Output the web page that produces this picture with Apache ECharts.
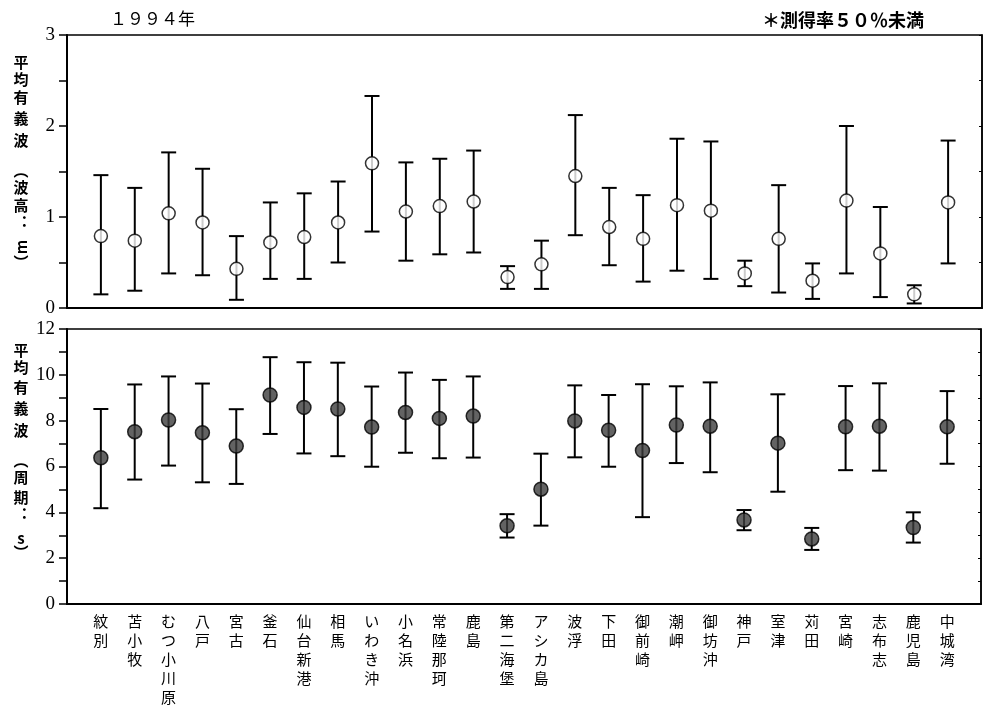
<!DOCTYPE html>
<html><head><meta charset="utf-8">
<script src="https://cdn.jsdelivr.net/npm/echarts@6/dist/echarts.min.js"></script>
<style>html,body{margin:0;padding:0;background:#fff}#c{width:984px;height:721px}</style>
</head><body><div id="c"></div>
<script>
const stations = ["紋別","苫小牧","むつ小川原","八戸","宮古","釜石","仙台新港","相馬","いわき沖","小名浜","常陸那珂","鹿島","第二海堡","アシカ島","波浮","下田","御前崎","潮岬","御坊沖","神戸","室津","苅田","宮崎","志布志","鹿児島","中城湾"];
const heightMean = [0.79,0.74,1.04,0.94,0.43,0.72,0.78,0.94,1.59,1.06,1.12,1.17,0.34,0.48,1.45,0.89,0.76,1.13,1.07,0.38,0.76,0.30,1.18,0.60,0.15,1.16];
const heightLow  = [0.15,0.19,0.38,0.36,0.09,0.32,0.32,0.50,0.84,0.52,0.59,0.61,0.21,0.21,0.80,0.47,0.29,0.41,0.32,0.24,0.17,0.10,0.38,0.12,0.05,0.49];
const heightHigh = [1.46,1.32,1.71,1.53,0.79,1.16,1.26,1.39,2.33,1.60,1.64,1.73,0.46,0.74,2.12,1.32,1.24,1.86,1.83,0.52,1.35,0.49,2.00,1.11,0.25,1.84];
const periodMean = [6.38,7.52,8.03,7.47,6.89,9.12,8.58,8.51,7.72,8.36,8.10,8.20,3.41,5.01,7.99,7.58,6.70,7.81,7.76,3.67,7.02,2.84,7.73,7.76,3.34,7.73];
const periodLow  = [4.18,5.43,6.04,5.31,5.24,7.42,6.57,6.45,5.99,6.60,6.36,6.39,2.90,3.42,6.40,5.99,3.79,6.15,5.75,3.22,4.90,2.36,5.84,5.82,2.68,6.12];
const periodHigh = [8.51,9.58,9.93,9.62,8.50,10.77,10.55,10.53,9.49,10.10,9.78,9.93,3.92,6.56,9.54,9.12,9.59,9.50,9.67,4.10,9.15,3.32,9.51,9.63,4.00,9.29];
const titleText = "１９９４年";
const noteText = "＊測得率５０％未満";
const heightAxisName = ["平","均","有","義","波","︵","波","高","︓","m","︶"];
const periodAxisName = ["平","均","有","義","波","︵","周","期","︓","s","︶"];

const chart = echarts.init(document.getElementById('c'));
const labelFont = {fontFamily:'Liberation Serif', fontSize:19, color:'#000'};

function errRender(params, api){
  const x = api.value(0), lo = api.value(1), hi = api.value(2);
  const a = api.coord([x, lo]), b = api.coord([x, hi]);
  const w = 7.5, st = {stroke:'#000', lineWidth:2};
  return {type:'group', children:[
    {type:'line', shape:{x1:a[0],y1:a[1],x2:b[0],y2:b[1]}, style:st},
    {type:'line', shape:{x1:a[0]-w,y1:a[1],x2:a[0]+w,y2:a[1]}, style:st},
    {type:'line', shape:{x1:b[0]-w,y1:b[1],x2:b[0]+w,y2:b[1]}, style:st}
  ]};
}

const heightY = [62,79,97,118,140,170,187,205,222,247,262];
const periodY = [350,367,387,408,430,460,477,497,514,538,552];
const graphics = [];
function addName(chars, ys){
  chars.forEach((ch,i)=>{
    const rot = (ch==='m') ? Math.PI/2 : 0;
    graphics.push({type:'text', x:21, y:ys[i], rotation:rot,
      style:{text:ch, fontFamily:'Noto Sans CJK JP', fontSize:15, fontWeight:'bold', fill:'#000', align:'center', verticalAlign:'middle'}});
  });
}
addName(heightAxisName, heightY);
addName(periodAxisName, periodY);
graphics.push({type:'text', left:110, top:10, style:{text:titleText, fontFamily:'Noto Sans CJK JP', fontSize:17, fill:'#000'}});
graphics.push({type:'text', left:762, top:11, style:{text:noteText, fontFamily:'Noto Sans CJK JP', fontSize:18, fontWeight:'bold', fill:'#000'}});

const xBase = {type:'value', min:-1, max:26, interval:1, splitLine:{show:false}, axisTick:{show:false},
  axisLine:{show:true, onZero:false, lineStyle:{color:'#000', width:2}}};

chart.setOption({
  animation:false,
  backgroundColor:'#fff',
  graphic: graphics,
  grid:[
    {left:67, top:35, width:915, height:273, show:true, borderColor:'#000', borderWidth:1.5},
    {left:67, top:329, width:915, height:275, show:true, borderColor:'#000', borderWidth:1.5}
  ],
  xAxis:[
    Object.assign({}, xBase, {gridIndex:0, axisLabel:{show:false}}),
    Object.assign({}, xBase, {gridIndex:1, axisLabel:{show:true, margin:8, fontFamily:'Noto Sans CJK JP', fontSize:15, lineHeight:19, color:'#000', verticalAlign:'top',
      formatter: v => (Number.isInteger(v) && v>=0 && v<stations.length) ? stations[v].split('').join('\n') : ''}})
  ],
  yAxis:[
    {type:'value', gridIndex:0, min:0, max:3, interval:0.5, splitLine:{show:false},
      axisLine:{show:true, onZero:false, lineStyle:{color:'#000', width:2}},
      axisTick:{show:true, length:8, lineStyle:{color:'#000', width:1.5}},
      axisLabel:Object.assign({margin:12, formatter: v => (v%1===0) ? String(v) : ''}, labelFont)},
    {type:'value', gridIndex:1, min:0, max:12, interval:1, splitLine:{show:false},
      axisLine:{show:true, onZero:false, lineStyle:{color:'#000', width:2}},
      axisTick:{show:true, length:8, lineStyle:{color:'#000', width:1.5}},
      axisLabel:Object.assign({margin:12, formatter: v => (v%2===0) ? String(v) : ''}, labelFont)},
    {type:'value', gridIndex:0, position:'right', min:0, max:3, interval:0.5, splitLine:{show:false},
      axisLine:{show:true, onZero:false, lineStyle:{color:'#000', width:1.5}}, axisLabel:{show:false},
      axisTick:{show:true, inside:true, length:3, lineStyle:{color:'#000'}}},
    {type:'value', gridIndex:1, position:'right', min:0, max:12, interval:1, splitLine:{show:false},
      axisLine:{show:true, onZero:false, lineStyle:{color:'#000', width:1.5}}, axisLabel:{show:false},
      axisTick:{show:true, inside:true, length:3, lineStyle:{color:'#000'}}}
  ],
  series:[
    {type:'custom', xAxisIndex:0, yAxisIndex:0, renderItem:errRender, encode:{x:0, y:[1,2]},
      data: stations.map((s,i)=>[i, heightLow[i], heightHigh[i]]), z:2},
    {type:'scatter', xAxisIndex:0, yAxisIndex:0, symbol:'circle', symbolSize:13,
      itemStyle:{color:'#fff', borderColor:'#000', borderWidth:1.5},
      data: stations.map((s,i)=>[i, heightMean[i]]), z:3},
    {type:'custom', xAxisIndex:1, yAxisIndex:1, renderItem:errRender, encode:{x:0, y:[1,2]},
      data: stations.map((s,i)=>[i, periodLow[i], periodHigh[i]]), z:2},
    {type:'scatter', xAxisIndex:1, yAxisIndex:1, symbol:'circle', symbolSize:14,
      itemStyle:{color:'#3c3c3c', borderColor:'#000', borderWidth:1.5},
      data: stations.map((s,i)=>[i, periodMean[i]]), z:3}
  ]
});
</script></body></html>
